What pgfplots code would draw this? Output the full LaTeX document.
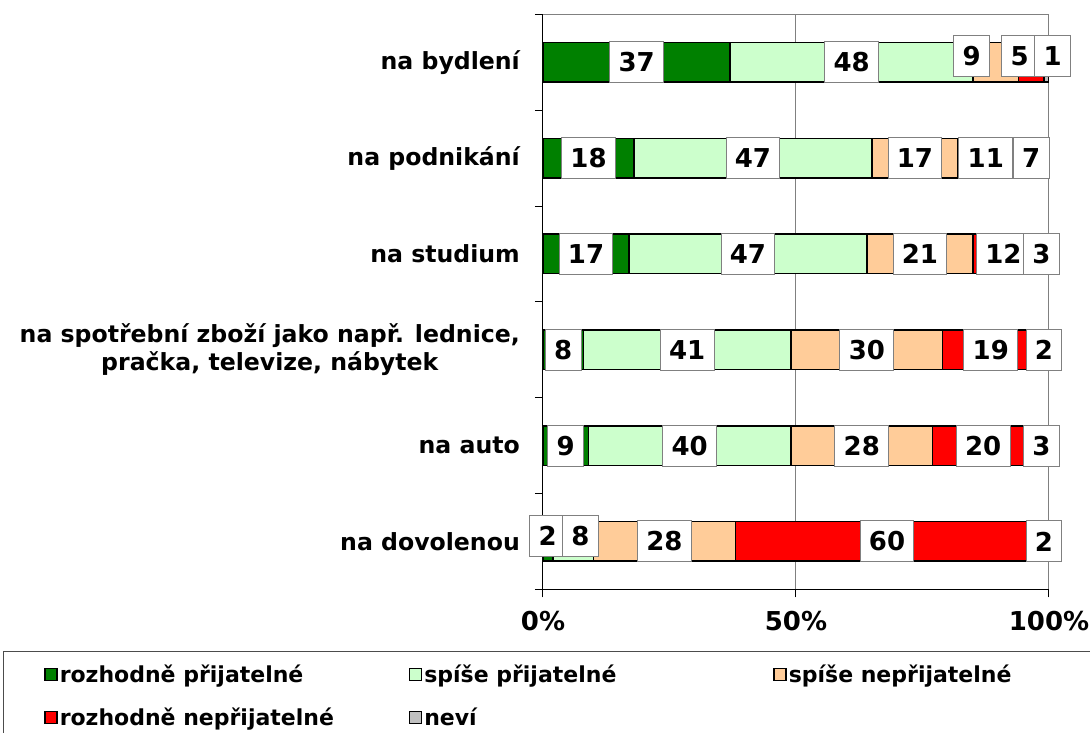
\documentclass[border=0pt]{standalone}
\usepackage{fontspec}
\setmainfont{DejaVu Sans}
\usepackage{pgfplots}
\usepackage{pgfplotstable}
\pgfplotsset{compat=1.18}
\definecolor{c1}{HTML}{008000}
\definecolor{c2}{HTML}{CCFFCC}
\definecolor{c3}{HTML}{FFCC99}
\definecolor{c4}{HTML}{FF0000}
\definecolor{c5}{HTML}{C0C0C0}
\newcommand\numfont{\fontsize{26bp}{30bp}\selectfont\bfseries}
\newcommand\catfont{\fontsize{23.6bp}{28bp}\selectfont\bfseries}
\newcommand\legfont{\fontsize{22bp}{26bp}\selectfont\bfseries}
\newcommand\legtext[1]{\makebox[347bp][l]{#1}}

\pgfplotstableread{
y  roz  spi  spn  rozn  nevi
5  37   48   9    5     1
4  18   47   17   11    7
3  17   47   21   12    3
2  8    41   30   19    2
1  9    40   28   20    3
0  2    8    28   60    2
}\data

\pgfplotstableread{
x     y      lab
18.5  5      37
61    5      48
84.7  5.061  9
94.2  5.061  5
100.7 5.061  1
9     4      18
41.5  4      47
73.5  4      17
87.5  4      11
96.5  4      7
8.5   3      17
40.5  3      47
74.5  3      21
91    3      12
98.5  3      3
4     2      8
28.5  2      41
64    2      30
88.5  2      19
99    2      2
4.5   1      9
29    1      40
63    1      28
87    1      20
98.5  1      3
0.9   0.055  2
7.4   0.055  8
24    0      28
68    0      60
99    0      2
}\labels

\begin{document}
\begin{tikzpicture}
\begin{axis}[
  scale only axis, width=506bp, height=575bp,
  xbar stacked, bar width=0.412,
  xmin=0, xmax=100, ymin=-0.5, ymax=5.5,
  axis x line*=bottom, axis y line*=left,
  axis line style={black, line width=1bp, -},
  xtick={0,50,100}, xticklabels={0\%,50\%,100\%},
  minor xtick={0,50,100},
  ytick={0,...,5},
  yticklabels={na dovolenou, na auto, {na spotřební zboží jako např. lednice,\\pračka, televize, nábytek}, na studium, na podnikání, na bydlení},
  minor ytick={-0.5,0.5,...,5.5},
  major tick length=0bp, minor tick length=8bp,
  tick align=outside,
  tick style={black, line width=1bp},
  xmajorgrids, grid style={gray, line width=1bp},
  xticklabel style={font=\numfont, yshift=-18bp},
  yticklabel style={font=\catfont, align=center, inner sep=0bp, xshift=-23bp},
  legend columns=3,
  legend cell align=left,
  legend style={at={(-1.0676,-0.1078)}, anchor=north west,
    draw=black!70, line width=1bp, font=\legfont,
    inner xsep=41bp, inner ysep=11bp, row sep=20bp,
    nodes={inner sep=2bp}},
  legend image code/.code={\draw[#1] (0bp,-6bp) rectangle (12bp,6bp);},
  every axis plot/.append style={draw=black, line width=1.5bp},
]
\addplot[fill=c1] table[x=roz, y=y] \data;
\addplot[fill=c2] table[x=spi, y=y] \data;
\addplot[fill=c3] table[x=spn, y=y] \data;
\addplot[fill=c4] table[x=rozn, y=y] \data;
\addplot[fill=c5] table[x=nevi, y=y] \data;
\draw[gray, line width=1bp] (rel axis cs:0,1) -- (rel axis cs:1,1);
\addlegendentry{\legtext{rozhodně přijatelné}}
\addlegendentry{\legtext{spíše přijatelné}}
\addlegendentry{\makebox[380bp][l]{spíše nepřijatelné}}
\addlegendentry{\legtext{rozhodně nepřijatelné}}
\addlegendentry{\legtext{neví}}
\end{axis}
\begin{axis}[
  scale only axis, width=506bp, height=575bp,
  xmin=0, xmax=100, ymin=-0.5, ymax=5.5,
  hide axis, clip=false,
]
\addplot[draw=none, mark=none, nodes near coords, point meta=explicit symbolic,
  every node near coord/.append style={anchor=center, font=\numfont, fill=white,
    draw=gray, line width=1bp, inner xsep=8.8bp, inner ysep=0bp, minimum height=41bp}]
  table[x=x, y=y, meta=lab] \labels;
\end{axis}
\pgfresetboundingbox
\path[use as bounding box] (-543bp,-143.6bp) rectangle (547bp,589.4bp);
\end{tikzpicture}
\end{document}
